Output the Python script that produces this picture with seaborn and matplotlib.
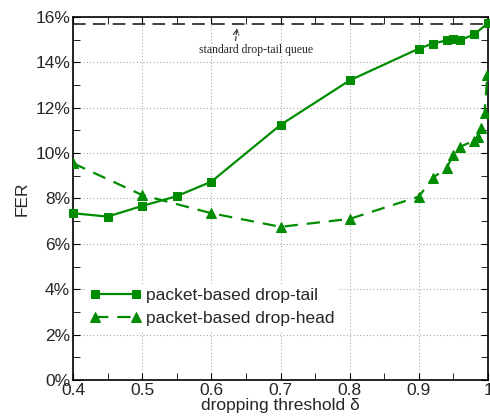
"""
FER vs dropping threshold for packet-based drop-tail / drop-head
"""
import numpy as np
import pandas as pd
import matplotlib
matplotlib.use("Agg")
import matplotlib.pyplot as plt
from matplotlib.ticker import MultipleLocator, FuncFormatter
import seaborn as sns

# Data (FER in %)
tail_x = [0.4, 0.45, 0.5, 0.55, 0.6, 0.7, 0.8, 0.9, 0.92, 0.94, 0.95, 0.96, 0.98, 1.0]
tail_fer = [7.35, 7.2, 7.67, 8.1, 8.74, 11.24, 13.2, 14.6, 14.82, 14.96, 15.02, 14.97, 15.23, 15.72]

head_x = [0.4, 0.5, 0.6, 0.7, 0.8, 0.9, 0.92, 0.94, 0.95, 0.96, 0.98, 0.985, 0.99, 0.995, 0.999]
head_fer = [9.55, 8.15, 7.35, 6.75, 7.1, 8.08, 8.9, 9.35, 9.9, 10.28, 10.55, 10.72, 11.1, 11.75, 13.45]

standard_fer = 15.68
series_names = ["packet-based drop-tail", "packet-based drop-head"]

GREEN = "#008c00"

sns.set_style("ticks")
plt.rcParams['font.family'] = ['Liberation Sans', 'DejaVu Sans']

df_tail = pd.DataFrame({'delta': tail_x, 'FER': tail_fer})
df_head = pd.DataFrame({'delta': head_x, 'FER': head_fer})

fig = plt.figure(figsize=(4.9, 4.2), dpi=100)
ax = fig.add_axes([0.149, 0.095, 0.847, 0.865])

ax.axhline(standard_fer, color='#333333', lw=1.3, ls=(0, (7, 4)), zorder=2)

sns.lineplot(data=df_tail, x='delta', y='FER', ax=ax, color=GREEN, lw=1.6,
             marker='s', markersize=6, markeredgecolor=GREEN,
             label=series_names[0], zorder=4, clip_on=False)
sns.lineplot(data=df_head, x='delta', y='FER', ax=ax, color=GREEN, lw=1.6,
             linestyle=(0, (6, 4)), marker='^', markersize=7,
             markeredgecolor=GREEN, label=series_names[1], zorder=4)

ax.set_xlim(0.4, 1.0)
ax.set_ylim(0, 16)
ax.xaxis.set_major_locator(MultipleLocator(0.1))
ax.xaxis.set_minor_locator(MultipleLocator(0.05))
ax.yaxis.set_major_locator(MultipleLocator(2))
ax.yaxis.set_minor_locator(MultipleLocator(1))
ax.xaxis.set_major_formatter(FuncFormatter(lambda v, p: f"{v:g}"))
ax.yaxis.set_major_formatter(FuncFormatter(lambda v, p: f"{v:g}%"))

ax.grid(True, which='major', color='#aaaaaa', ls=(0, (1, 2)), lw=0.8)
ax.tick_params(which='both', direction='in', top=True, right=True,
               color='black', labelsize=12.5, pad=2)
ax.tick_params(which='major', length=5)
ax.tick_params(which='minor', length=5)
for s in ax.spines.values():
    s.set_color('black')
    s.set_linewidth(1.2)

ax.set_xlabel('dropping threshold δ', fontsize=12.5, labelpad=0)
ax.set_ylabel('FER', fontsize=12.5, labelpad=4)

# short dashed arrow pointing up at the standard queue line
ax.annotate('', xy=(0.637, 15.5), xytext=(0.635, 14.95),
            arrowprops=dict(arrowstyle='->', color='#333333', lw=0.8,
                            ls='--', shrinkA=0, shrinkB=0))
ax.text(0.665, 14.55, 'standard drop-tail queue', ha='center', va='center',
        fontsize=8.5, family='Liberation Serif')

leg = ax.legend(loc='lower left', bbox_to_anchor=(0.01, 0.115), frameon=True,
                fontsize=12.5, handlelength=3.0, handletextpad=0.25,
                borderpad=0.2, labelspacing=0.45, fancybox=False, numpoints=2)
leg.get_frame().set_edgecolor('white')
leg.get_frame().set_alpha(1.0)

fig.savefig('out.png', dpi=100)
